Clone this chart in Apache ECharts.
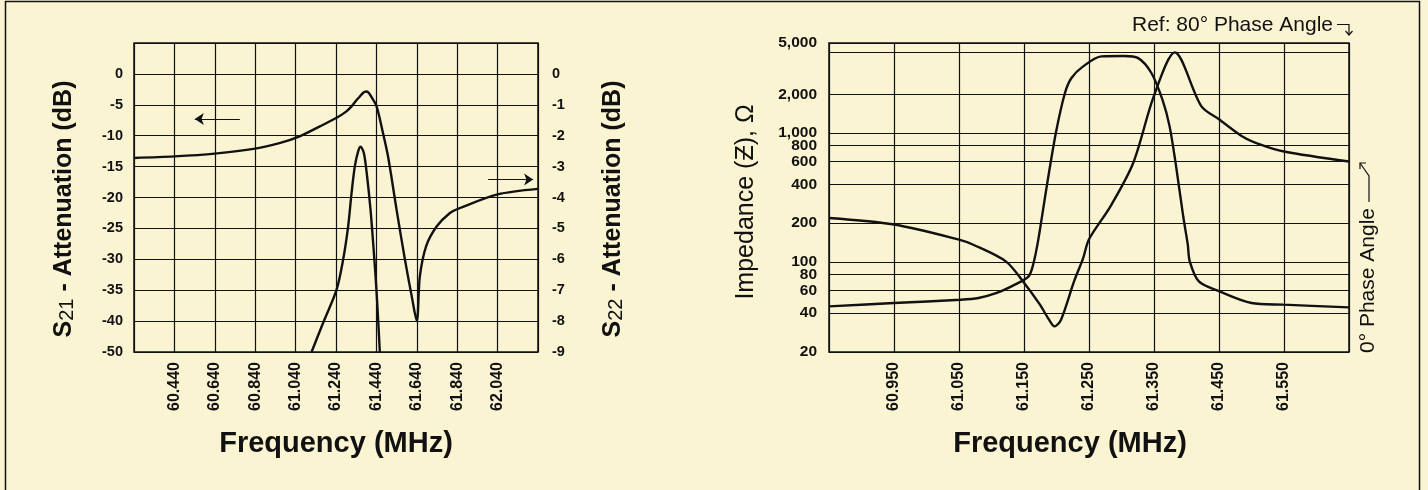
<!DOCTYPE html>
<html><head><meta charset="utf-8">
<script src="https://cdn.jsdelivr.net/npm/echarts@6/dist/echarts.min.js"></script>
<style>html,body{margin:0;padding:0;background:#FAF4D3;}#c{width:1428px;height:490px;}</style>
</head><body><div id="c"></div>
<script>
// ---------- Left chart: S21 / S22 attenuation vs frequency ----------
const L_X_GRID = [60.24, 60.44, 60.64, 60.84, 61.04, 61.24, 61.44, 61.64, 61.84, 62.04, 62.24];
const L_X_TICK_LABELS = ['60.440', '60.640', '60.840', '61.040', '61.240', '61.440', '61.640', '61.840', '62.040'];
// S21 axis is broken at the bottom: the last grid step is labelled -50
const S21_TICK_POS = [0, -5, -10, -15, -20, -25, -30, -35, -40, -45];
const S21_TICK_LABELS = ['0', '-5', '-10', '-15', '-20', '-25', '-30', '-35', '-40', '-50'];
const S22_TICK_LABELS = ['0', '-1', '-2', '-3', '-4', '-5', '-6', '-7', '-8', '-9'];

const S21_FREQ = [61.119, 61.176, 61.243, 61.275, 61.300, 61.317, 61.333, 61.350, 61.362, 61.378, 61.394, 61.411, 61.424, 61.436, 61.446, 61.457];
const S21_DB   = [-45, -40.3, -34.9, -30.1, -24.7, -19.3, -15.0, -12.5, -11.8, -12.8, -16.6, -22.0, -27.4, -32.8, -38.2, -45];

const S22_FREQ = [60.24, 60.44, 60.64, 60.84, 60.96, 61.06, 61.16, 61.243, 61.29, 61.317, 61.34, 61.358, 61.375, 61.388, 61.40, 61.415, 61.441, 61.47, 61.499, 61.54, 61.581, 61.615, 61.64, 61.655, 61.686, 61.738, 61.804, 61.854, 62.04, 62.24];
const S22_DB   = [-2.72, -2.67, -2.58, -2.42, -2.24, -2.02, -1.70, -1.42, -1.22, -1.05, -0.86, -0.73, -0.61, -0.57, -0.60, -0.74, -1.05, -1.84, -2.72, -4.40, -6.00, -7.20, -8.00, -6.56, -5.58, -4.94, -4.50, -4.34, -3.90, -3.72];

// ---------- Right chart: impedance / phase vs frequency ----------
const R_X_GRID = [60.85, 60.95, 61.05, 61.15, 61.25, 61.35, 61.45, 61.55, 61.65];
const R_X_TICK_LABELS = ['60.950', '61.050', '61.150', '61.250', '61.350', '61.450', '61.550'];
const Z_TICK_LABELS = ['20', '40', '60', '80', '100', '200', '400', '600', '800', '1,000', '2,000', '5,000'];
const REF_80_DEG = 4226;

const Z_FREQ = [60.85, 60.95, 61.052, 61.08, 61.108, 61.136, 61.157, 61.164, 61.172, 61.185, 61.199, 61.213, 61.223, 61.241, 61.269, 61.304, 61.325, 61.346, 61.363, 61.374, 61.384, 61.395, 61.402, 61.405, 61.419, 61.451, 61.50, 61.549, 61.65];
const Z_OHM  = [45.2, 48, 50.9, 52.5, 57.4, 66.6, 77.3, 95, 149, 386, 1002, 2046, 2676, 3292, 3934, 3960, 3831, 2925, 1815, 1127, 551, 225, 136, 101, 70.6, 59, 48, 46.6, 44.4];

const PH_FREQ = [60.85, 60.95, 61.05, 61.072, 61.122, 61.15, 61.174, 61.188, 61.197, 61.207, 61.227, 61.241, 61.25, 61.283, 61.318, 61.35, 61.382, 61.423, 61.451, 61.486, 61.514, 61.55, 61.65];
const PH_VAL  = [219, 195, 149, 136, 101, 69, 47, 36, 31.6, 35.6, 70.6, 107, 150, 270, 586, 1950, 4226, 1610, 1270, 942, 813, 720, 602];

// annotation arrows (data coordinates of the left chart, S21 units)
const ARROW_LEFT  = [[60.764, -7.3], [60.541, -7.3]];
const ARROW_RIGHT = [[61.993, -17.1], [62.216, -17.1]];

const INK = '#111111';
const FONT = "'Liberation Sans', Arial, Helvetica, sans-serif";
const num = s => parseFloat(String(s).replace(/,/g, ''));
const pairs = (xs, ys) => xs.map((x, i) => [x, ys[i]]);
const lookup = (vals, labels) => v => {
  const i = vals.findIndex(t => Math.abs(t - v) <= 1e-6 * Math.max(1, Math.abs(t)));
  return i >= 0 ? labels[i] : '';
};
const L_X_VALS = L_X_TICK_LABELS.map(num);
const R_X_VALS = R_X_TICK_LABELS.map(num);
const S22_VALS = S22_TICK_LABELS.map(num);
const Z_VALS = Z_TICK_LABELS.map(num);

const gridLine = { show: true, lineStyle: { color: INK, width: 1.2, type: 'solid' } };
const lbl = (size, extra) => Object.assign({ color: INK, fontFamily: FONT, fontWeight: 'bold', fontSize: size }, extra);
const curve = { type: 'line', symbol: 'none', smooth: 0.3, lineStyle: { color: INK, width: 2.4 }, itemStyle: { color: INK }, silent: true };

const chart = echarts.init(document.getElementById('c'));
chart.setOption({
  animation: false,
  backgroundColor: '#FAF4D3',
  grid: [
    { left: 134, top: 43, width: 404, height: 309, show: true, borderColor: INK, borderWidth: 1.5, backgroundColor: 'transparent' },
    { left: 829, top: 43, width: 520, height: 309, show: true, borderColor: INK, borderWidth: 1.5, backgroundColor: 'transparent' }
  ],
  xAxis: [
    { gridIndex: 0, type: 'value', min: 60.24, max: 62.24,
      axisLine: { show: false }, axisTick: { show: false, customValues: L_X_GRID }, splitLine: gridLine,
      axisLabel: lbl(16, { customValues: L_X_VALS, rotate: 90, margin: 10, formatter: lookup(L_X_VALS, L_X_TICK_LABELS) }) },
    { gridIndex: 1, type: 'value', min: 60.85, max: 61.65,
      axisLine: { show: false }, axisTick: { show: false, customValues: R_X_GRID }, splitLine: gridLine,
      axisLabel: lbl(16, { customValues: R_X_VALS, rotate: 90, margin: 10, formatter: lookup(R_X_VALS, R_X_TICK_LABELS) }) }
  ],
  yAxis: [
    { gridIndex: 0, type: 'value', min: -45, max: 5, interval: 5, position: 'left',
      axisLine: { show: false }, axisTick: { show: false }, splitLine: gridLine,
      axisLabel: lbl(14.5, { customValues: S21_TICK_POS, margin: 11, formatter: lookup(S21_TICK_POS, S21_TICK_LABELS) }) },
    { gridIndex: 0, type: 'value', min: -9, max: 1, interval: 1, position: 'right',
      axisLine: { show: false }, axisTick: { show: false }, splitLine: { show: false },
      axisLabel: lbl(14.5, { customValues: S22_VALS, margin: 14, formatter: lookup(S22_VALS, S22_TICK_LABELS) }) },
    { gridIndex: 1, type: 'log', logBase: 10, min: 20, max: 5000,
      axisLine: { show: false }, axisTick: { show: false, customValues: Z_VALS }, splitLine: gridLine, minorSplitLine: { show: false },
      axisLabel: lbl(15.5, { customValues: Z_VALS, margin: 12, formatter: lookup(Z_VALS, Z_TICK_LABELS) }) }
  ],
  series: [
    Object.assign({}, curve, { name: 'S21', xAxisIndex: 0, yAxisIndex: 0, data: pairs(S21_FREQ, S21_DB),
      markLine: { silent: true, symbol: ['none', 'arrow'], symbolSize: 9, label: { show: false },
        lineStyle: { color: INK, width: 1.2, type: 'solid' }, itemStyle: { color: INK },
        data: [
          [{ coord: ARROW_LEFT[0] }, { coord: ARROW_LEFT[1] }],
          [{ coord: ARROW_RIGHT[0] }, { coord: ARROW_RIGHT[1] }]
        ] } }),
    Object.assign({}, curve, { name: 'S22', xAxisIndex: 0, yAxisIndex: 1, data: pairs(S22_FREQ, S22_DB) }),
    Object.assign({}, curve, { name: 'Impedance', xAxisIndex: 1, yAxisIndex: 2, data: pairs(Z_FREQ, Z_OHM) }),
    Object.assign({}, curve, { name: 'Phase', xAxisIndex: 1, yAxisIndex: 2, data: pairs(PH_FREQ, PH_VAL),
      markLine: { silent: true, symbol: ['none', 'none'], label: { show: false },
        lineStyle: { color: INK, width: 1.2, type: 'solid' }, data: [{ yAxis: REF_80_DEG }] } })
  ],
  graphic: [
    { type: 'rect', silent: true, shape: { x: 5.5, y: 1.5, width: 1414, height: 520 }, style: { fill: 'none', stroke: INK, lineWidth: 1.5 } },
    { type: 'text', silent: true, x: 63, y: 209, rotation: Math.PI / 2,
      style: { text: '{s|S}{n|21}{s| - Attenuation (dB)}', textAlign: 'center', textVerticalAlign: 'middle', fill: INK,
        rich: { s: { fontFamily: FONT, fontWeight: 'bold', fontSize: 25, verticalAlign: 'bottom', lineHeight: 28 },
                n: { fontFamily: FONT, fontWeight: 'normal', fontSize: 20, verticalAlign: 'bottom', lineHeight: 25 } } } },
    { type: 'text', silent: true, x: 612, y: 209, rotation: Math.PI / 2,
      style: { text: '{s|S}{n|22}{s| - Attenuation (dB)}', textAlign: 'center', textVerticalAlign: 'middle', fill: INK,
        rich: { s: { fontFamily: FONT, fontWeight: 'bold', fontSize: 25, verticalAlign: 'bottom', lineHeight: 28 },
                n: { fontFamily: FONT, fontWeight: 'normal', fontSize: 20, verticalAlign: 'bottom', lineHeight: 25 } } } },
    { type: 'text', silent: true, x: 336, y: 444,
      style: { text: 'Frequency (MHz)', font: 'bold 29px ' + FONT, textAlign: 'center', textVerticalAlign: 'middle', fill: INK } },
    { type: 'text', silent: true, x: 1070, y: 444,
      style: { text: 'Frequency (MHz)', font: 'bold 29px ' + FONT, textAlign: 'center', textVerticalAlign: 'middle', fill: INK } },
    { type: 'text', silent: true, x: 746, y: 202, rotation: Math.PI / 2,
      style: { text: 'Impedance (Ƶ), Ω', font: '25px ' + FONT, textAlign: 'center', textVerticalAlign: 'middle', fill: INK } },
    { type: 'text', silent: true, x: 1333, y: 25,
      style: { text: 'Ref: 80° Phase Angle', font: '21px ' + FONT, textAlign: 'right', textVerticalAlign: 'middle', fill: INK } },
    { type: 'polyline', silent: true, shape: { points: [[1337, 24.5], [1349, 24.5], [1349, 35]] }, style: { fill: 'none', stroke: INK, lineWidth: 1.2 } },
    { type: 'polyline', silent: true, shape: { points: [[1345.5, 31], [1349, 35], [1352.5, 31]] }, style: { fill: 'none', stroke: INK, lineWidth: 1.2 } },
    { type: 'text', silent: true, x: 1368, y: 353, rotation: Math.PI / 2,
      style: { text: '0° Phase Angle', font: '21px ' + FONT, textAlign: 'left', textVerticalAlign: 'middle', fill: INK } },
    { type: 'polyline', silent: true, shape: { points: [[1369, 202], [1369, 176], [1360, 163]] }, style: { fill: 'none', stroke: INK, lineWidth: 1.2 } },
    { type: 'polyline', silent: true, shape: { points: [[1360, 169], [1360, 163], [1366, 163]] }, style: { fill: 'none', stroke: INK, lineWidth: 1.2 } }
  ]
});
</script></body></html>
